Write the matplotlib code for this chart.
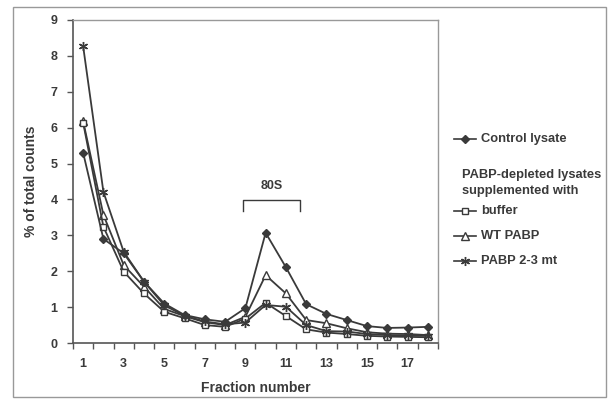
import matplotlib
matplotlib.use("Agg")
import matplotlib.pyplot as plt
from matplotlib.patches import Rectangle
from matplotlib.lines import Line2D

fractions = list(range(1, 19))
control = [5.3, 2.9, 2.5, 1.71, 1.1, 0.78, 0.66, 0.59, 0.97, 3.07, 2.11, 1.08, 0.81, 0.64, 0.47, 0.42, 0.43, 0.45]
buffer_ = [6.14, 3.24, 1.99, 1.38, 0.87, 0.69, 0.5, 0.45, 0.68, 1.12, 0.75, 0.38, 0.29, 0.25, 0.2, 0.18, 0.17, 0.16]
wt_pabp = [6.18, 3.57, 2.17, 1.57, 0.95, 0.75, 0.58, 0.5, 0.73, 1.89, 1.38, 0.64, 0.55, 0.41, 0.3, 0.26, 0.25, 0.22]
mt_pabp = [8.27, 4.21, 2.54, 1.71, 1.05, 0.76, 0.6, 0.52, 0.57, 1.06, 1.01, 0.5, 0.33, 0.32, 0.25, 0.22, 0.21, 0.2]
xtick_labels = ["1", "3", "5", "7", "9", "11", "13", "15", "17"]

plt.rcParams['font.family'] = ['Liberation Sans', 'DejaVu Sans']
txt = '#3a3a3a'
axc = '#555555'
lc = '#3a3a3a'

fig = plt.figure(figsize=(6.08, 3.99), dpi=100)
fig.patch.set_facecolor('white')
fig.patches.append(Rectangle((13/608, 2/399), (606-13)/608, (397-7)/399, transform=fig.transFigure,
                             fill=False, edgecolor='#999999', linewidth=1.0))

ax = fig.add_axes([73/608, 56/399, (438-73)/608, (343-20)/399])

lw = 1.3
ax.plot(fractions, control, color=lc, lw=lw, marker='D', ms=3.8, mfc=lc, mec=lc, zorder=5)
ax.plot(fractions, wt_pabp, color=lc, lw=lw, marker='^', ms=5.2, mfc='white', mec=lc, mew=1, zorder=3)
ax.plot(fractions, buffer_, color=lc, lw=lw, marker='s', ms=4.8, mfc='white', mec=lc, mew=1, zorder=4)
ax.plot(fractions, mt_pabp, color=lc, lw=lw, marker=(6, 2, 0), ms=6.5, mec=lc, mew=1, zorder=6)

ax.set_xlim(0.5, 18.5)
ax.set_ylim(0, 9)
ax.set_xticks(list(range(1, 19, 2)))
ax.set_xticklabels(xtick_labels)
ax.set_xticks([i + 0.5 for i in range(0, 19)], minor=True)
ax.tick_params(axis='x', which='major', length=0, pad=11, labelsize=9, labelcolor=txt)
ax.tick_params(axis='x', which='minor', length=4, width=1, color=axc, direction='out')
ax.set_yticks(range(0, 10))
ax.tick_params(axis='y', length=4, width=1, color=axc, direction='out', labelsize=9, labelcolor=txt, pad=7)
for lab in ax.get_xticklabels() + ax.get_yticklabels():
    lab.set_fontweight('bold')

for s in ['left', 'bottom']:
    ax.spines[s].set_color(axc)
    ax.spines[s].set_linewidth(1.2)
for s in ['top', 'right']:
    ax.spines[s].set_color('#999999')
    ax.spines[s].set_linewidth(1.0)

ax.set_xlabel('Fraction number', fontsize=10, fontweight='bold', color=txt, labelpad=8)
ax.set_ylabel('% of total counts', fontsize=10, fontweight='bold', color=txt, labelpad=9)

# 80S bracket
ax.plot([8.87, 8.87, 11.69, 11.69], [3.68, 3.98, 3.98, 3.68], color=txt, lw=1.0, clip_on=False)
ax.text(10.28, 4.22, '80S', ha='center', va='bottom', fontsize=9, fontweight='bold', color=txt)

# Legend (manual)
def fx(px):
    return px / 608
def fy(py):
    return 1 - py / 399

fs_leg = 9.3
fig.add_artist(Line2D([fx(454), fx(476)], [fy(139), fy(139)], color=lc, lw=1.2))
fig.add_artist(Line2D([fx(465)], [fy(139)], marker='D', ms=3.8, mfc=lc, mec=lc, lw=0))
fig.text(fx(481), fy(139), 'Control lysate', fontsize=fs_leg, fontweight='bold', color=txt, va='center')
fig.text(fx(462), fy(175), 'PABP-depleted lysates', fontsize=fs_leg, fontweight='bold', color=txt, va='center')
fig.text(fx(462), fy(191), 'supplemented with', fontsize=fs_leg, fontweight='bold', color=txt, va='center')

fig.add_artist(Line2D([fx(454), fx(476)], [fy(211), fy(211)], color=lc, lw=1.2))
fig.add_artist(Line2D([fx(465)], [fy(211)], marker='s', ms=4.8, mfc='white', mec=lc, mew=1, lw=0))
fig.text(fx(481), fy(211), 'buffer', fontsize=fs_leg, fontweight='bold', color=txt, va='center')

fig.add_artist(Line2D([fx(454), fx(476)], [fy(236), fy(236)], color=lc, lw=1.2))
fig.add_artist(Line2D([fx(465)], [fy(236)], marker='^', ms=5.2, mfc='white', mec=lc, mew=1, lw=0))
fig.text(fx(481), fy(236), 'WT PABP', fontsize=fs_leg, fontweight='bold', color=txt, va='center')

fig.add_artist(Line2D([fx(454), fx(476)], [fy(261), fy(261)], color=lc, lw=1.2))
fig.add_artist(Line2D([fx(465)], [fy(261)], marker=(6, 2, 0), ms=6.5, mec=lc, mew=1, lw=0))
fig.text(fx(481), fy(261), 'PABP 2-3 mt', fontsize=fs_leg, fontweight='bold', color=txt, va='center')

fig.savefig('out.png', dpi=100, facecolor='white')
